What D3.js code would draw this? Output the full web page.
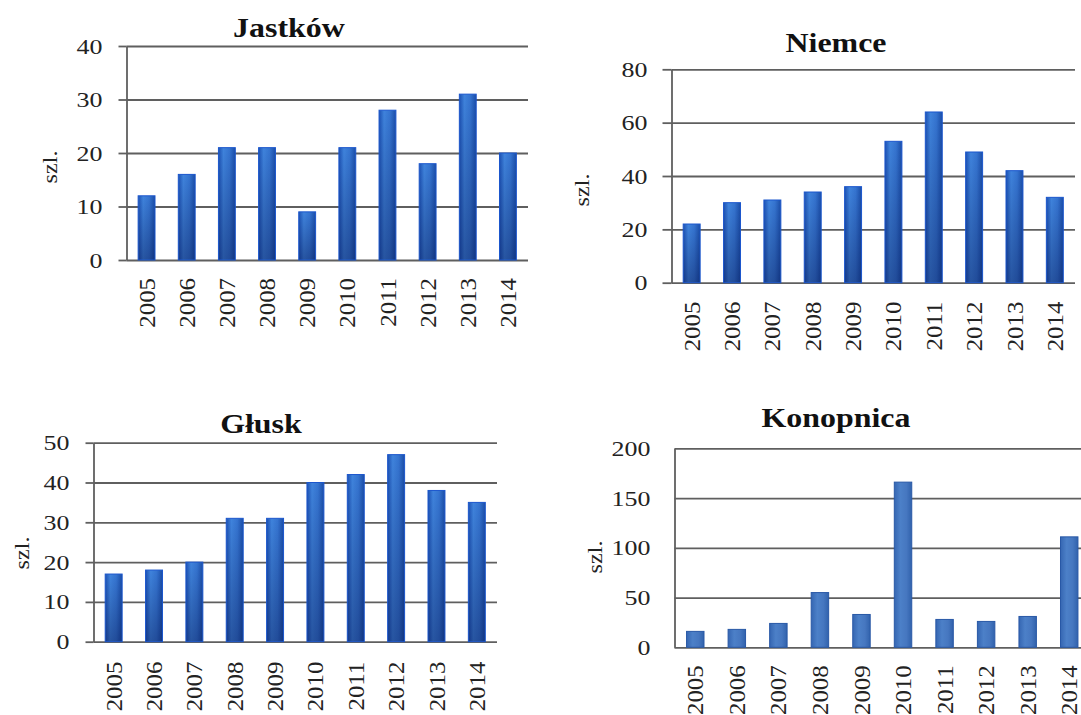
<!DOCTYPE html>
<html>
<head>
<meta charset="utf-8">
<script src="https://cdn.jsdelivr.net/npm/d3@7"></script>
<style>
  body { margin: 0; background: #fff; }
  svg text { font-family: "Liberation Serif", "Times New Roman", "DejaVu Serif", serif; }
</style>
</head>
<body>
<div id="chart"></div>
<script>
const years = ["2005", "2006", "2007", "2008", "2009", "2010", "2011", "2012", "2013", "2014"];

const jastkow = [12, 16, 21, 21, 9, 21, 28, 18, 31, 20];
const niemce = [22, 30, 31, 34, 36, 53, 64, 49, 42, 32];
const glusk = [17, 18, 20, 31, 31, 40, 42, 47, 38, 35];
const konopnica = [16, 18, 24, 55, 33, 166, 28, 26, 31, 111];

const jastkowTicks = [0, 10, 20, 30, 40];
const niemceTicks = [0, 20, 40, 60, 80];
const gluskTicks = [0, 10, 20, 30, 40, 50];
const konopnicaTicks = [0, 50, 100, 150, 200];

const yLabel = "szl.";

// layout of the four panels (pixels)
const panels = [
  { title: "Jastków", values: jastkow, ticks: jastkowTicks, x0: 126.5, x1: 528, yTop: 46, yBot: 260, stub: 8, tx: 289, ty: 37, lx: 49, ly: 167, lab: 18, flat: false },
  { title: "Niemce", values: niemce, ticks: niemceTicks, x0: 671.5, x1: 1075, yTop: 69.3, yBot: 282.7, stub: 9, tx: 836, ty: 52, lx: 581, ly: 190, lab: 19, flat: false },
  { title: "Głusk", values: glusk, ticks: gluskTicks, x0: 93.5, x1: 497, yTop: 442.7, yBot: 641.7, stub: 8, tx: 261, ty: 433, lx: 21, ly: 553, lab: 20, flat: false },
  { title: "Konopnica", values: konopnica, ticks: konopnicaTicks, x0: 674.5, x1: 1090, yTop: 448.3, yBot: 647.3, stub: 0, tx: 836, ty: 427, lx: 594, ly: 557, lab: 18, flat: true }
];

const width = 1081, height = 715;
const gridColor = "#5f5f5f";

const svg = d3.select("#chart")
  .append("svg")
  .attr("width", width)
  .attr("height", height);

svg.append("rect").attr("width", width).attr("height", height).attr("fill", "#fff");

const defs = svg.append("defs");

function grad(id, stops, vertical) {
  const g = defs.append("linearGradient").attr("id", id)
    .attr("x1", 0).attr("y1", 0)
    .attr("x2", vertical ? 0 : 1).attr("y2", vertical ? 1 : 0);
  stops.forEach(s => g.append("stop").attr("offset", s[0]).attr("stop-color", s[1]).attr("stop-opacity", s[2] == null ? 1 : s[2]));
}
grad("barH", [[0, "#1d52b4"], [0.3, "#3f83dc"], [0.65, "#3574d0"], [1, "#1b4ea8"]], false);
grad("barV", [[0, "#000a40", 0], [1, "#000a40", 0.38]], true);
grad("flatH", [[0, "#3566b2"], [0.35, "#4c80c8"], [0.7, "#4677c0"], [1, "#3162ac"]], false);

// stretch text horizontally along its length
function stretch(sel, f) {
  sel.each(function () {
    const len = this.getComputedTextLength();
    d3.select(this).attr("textLength", len * f).attr("lengthAdjust", "spacingAndGlyphs");
  });
}

panels.forEach(p => {
  const g = svg.append("g");
  const W = p.x1 - p.x0;

  const x = d3.scaleBand().domain(years).range([p.x0, p.x1]).paddingInner(0.58).paddingOuter(0.29);
  const y = d3.scaleLinear().domain([0, d3.max(p.ticks)]).range([p.yBot, p.yTop]);

  // gridlines
  g.append("g")
    .attr("transform", `translate(${p.x0},0)`)
    .call(d3.axisLeft(y).tickValues(p.ticks).tickSize(-W).tickFormat(""))
    .call(a => a.select(".domain").remove())
    .call(a => a.selectAll("line").attr("stroke", gridColor).attr("stroke-width", 1.8));

  // y axis with labels
  const ya = g.append("g")
    .attr("transform", `translate(${p.x0},0)`)
    .call(d3.axisLeft(y).tickValues(p.ticks).tickSize(p.stub).tickSizeOuter(0).tickPadding(24 - p.stub));
  ya.attr("font-family", null);
  ya.select(".domain").attr("stroke", gridColor).attr("stroke-width", 1.8);
  ya.selectAll("line").attr("stroke", gridColor).attr("stroke-width", 1.8);
  ya.selectAll("text")
    .style("font-size", "22px")
    .attr("fill", "#222")
    .call(stretch, 1.18);

  // bars
  const bars = g.append("g").selectAll("g").data(p.values).join("g");
  bars.append("rect")
    .attr("x", (d, i) => x(years[i]))
    .attr("y", d => y(d))
    .attr("width", x.bandwidth())
    .attr("height", d => y(0) - y(d))
    .attr("fill", p.flat ? "url(#flatH)" : "url(#barH)")
    .attr("stroke", p.flat ? "#2858a6" : "#1b56cc")
    .attr("stroke-width", 1);
  if (!p.flat) {
    bars.append("rect")
      .attr("x", (d, i) => x(years[i]) + 0.5)
      .attr("y", d => y(d) + 0.5)
      .attr("width", x.bandwidth() - 1)
      .attr("height", d => Math.max(0, y(0) - y(d) - 1))
      .attr("fill", "url(#barV)");
  }

  // x axis labels
  const xa = g.append("g")
    .attr("transform", `translate(0,${p.yBot})`)
    .call(d3.axisBottom(x).tickSize(0));
  xa.attr("font-family", null);
  xa.select(".domain").remove();
  xa.selectAll("text")
    .attr("transform", "rotate(-90)")
    .attr("x", -p.lab)
    .attr("y", 0)
    .attr("dy", "0.35em")
    .attr("text-anchor", "end")
    .style("font-size", "23px")
    .attr("fill", "#222")
    .call(stretch, 1.08);

  // title
  g.append("text")
    .attr("x", p.tx)
    .attr("y", p.ty)
    .attr("text-anchor", "middle")
    .style("font-weight", "bold")
    .style("font-size", "28px")
    .attr("fill", "#111")
    .text(p.title)
    .call(stretch, 1.14);

  // y label
  g.append("text")
    .attr("transform", `translate(${p.lx},${p.ly}) rotate(-90)`)
    .attr("text-anchor", "middle")
    .attr("dy", "0.35em")
    .style("font-size", "22px")
    .attr("fill", "#222")
    .text(yLabel)
    .call(stretch, 1.1);
});
</script>
</body>
</html>
